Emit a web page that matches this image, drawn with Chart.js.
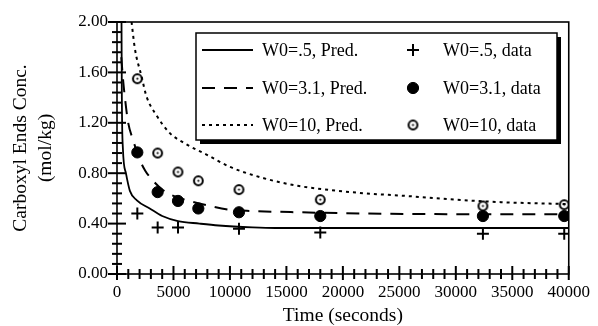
<!DOCTYPE html>
<html><head><meta charset="utf-8">
<script src="https://cdn.jsdelivr.net/npm/chart.js@4.4.1/dist/chart.umd.min.js"></script>
<style>html,body{margin:0;padding:0;background:#fff;}#wrap{width:598px;height:326px;}</style>
</head><body><div id="wrap"><canvas id="c" width="598" height="326"></canvas></div>
<script>
// ---- data ----
const xTickValues = [0,5000,10000,15000,20000,25000,30000,35000,40000];
const yTickValues = [0,0.4,0.8,1.2,1.6,2.0];

const w05DataTimes = [1800,3600,5400,10800,18000,32400,39600];
const w05DataVals  = [0.48,0.37,0.37,0.36,0.33,0.32,0.32];
const w31DataTimes = [1800,3600,5400,7200,10800,18000,32400,39600];
const w31DataVals  = [0.965,0.65,0.58,0.52,0.49,0.46,0.46,0.46];
const w10DataTimes = [1800,3600,5400,7200,10800,18000,32400,39600];
const w10DataVals  = [1.55,0.96,0.81,0.74,0.67,0.59,0.54,0.55];

const w05PredTimes = [400,430,520,790,1140,1760,2900,4000,5400,7300,9000,12000,14000,40000];
const w05PredVals  = [2.0,1.4,1.0,0.80,0.66,0.585,0.52,0.46,0.42,0.40,0.385,0.37,0.365,0.365];
const w31PredTimes = [380,530,700,990,1400,2000,2500,3000,4000,5000,6000,8000,10000,12000,16000,22000,30000,40000];
const w31PredVals  = [1.72,1.55,1.40,1.20,1.07,0.91,0.82,0.76,0.67,0.62,0.59,0.545,0.51,0.50,0.49,0.48,0.475,0.475];
const w10PredTimes = [1290,1580,2170,2610,3490,4660,6130,7880,10000,13000,16000,19000,22000,25500,30000,34000,40000];
const w10PredVals  = [2.0,1.79,1.57,1.41,1.26,1.12,1.03,0.95,0.85,0.76,0.70,0.665,0.64,0.62,0.59,0.57,0.555];

const seriesLabels = ['W0=.5, Pred.','W0=3.1, Pred.','W0=10, Pred.','W0=.5, data','W0=3.1, data','W0=10, data'];

const pts = (xs, ys) => xs.map((x, i) => ({x, y: ys[i]}));
const FONT = '"Liberation Serif","Times New Roman",serif';

// open circle with centre dot
function makeRing(){
  const c = document.createElement('canvas'); c.width = 13; c.height = 13;
  const g = c.getContext('2d');
  g.fillStyle = '#fff'; g.beginPath(); g.arc(6.5,6.5,4.6,0,Math.PI*2); g.fill();
  g.strokeStyle = '#000'; g.lineWidth = 2; g.beginPath(); g.arc(6.5,6.5,4.4,0,Math.PI*2); g.stroke();
  g.fillStyle = '#000'; g.beginPath(); g.arc(6.5,6.5,1.1,0,Math.PI*2); g.fill();
  return c;
}
const ring = makeRing();

const lineDs = (label, data, dash, w) => ({label, data, showLine:true, pointRadius:0, borderColor:'#000',
  borderWidth:w, borderDash:dash, cubicInterpolationMode:'monotone', fill:false});
const ptDs = (label, data, style, r, bw, bg) => ({label, data, showLine:false, pointStyle:style, pointRadius:r,
  pointHoverRadius:r, borderColor:'#000', backgroundColor:bg, borderWidth:bw, pointBorderWidth:bw});

const frameTicks = {
  id:'frameTicks',
  afterDraw(chart){
    const ctx = chart.ctx, a = chart.chartArea, xs = chart.scales.x, ys = chart.scales.y;
    ctx.save();
    ctx.setLineDash([]);
    ctx.strokeStyle = '#000'; ctx.lineWidth = 1.6;
    ctx.strokeRect(a.left, a.top, a.right - a.left, a.bottom - a.top);
    ctx.lineWidth = 2;
    const seg = (x1, y1, x2, y2) => { ctx.beginPath(); ctx.moveTo(x1, y1); ctx.lineTo(x2, y2); ctx.stroke(); };
    for (let k = 0; k <= 40; k++){
      const p = xs.getPixelForValue(k * 1000);
      const major = k % 5 === 0;
      seg(p, a.bottom - (major ? 8 : 5), p, a.bottom + (major ? 6 : 5));
    }
    for (let k = 0; k <= 25; k++){
      const p = ys.getPixelForValue(k * 0.08);
      const l = k % 5 === 0 ? 9 : 5;
      seg(a.left - l, p, a.left + l, p);
    }
    ctx.restore();
  }
};

const boxLegend = {
  id:'boxLegend',
  afterDraw(chart, args, o){
    const ctx = chart.ctx;
    ctx.save();
    ctx.fillStyle = '#000'; ctx.fillRect(o.left + o.shadow, o.top + o.shadow, o.width, o.height);
    ctx.fillStyle = '#fff'; ctx.fillRect(o.left, o.top, o.width, o.height);
    ctx.strokeStyle = '#000'; ctx.lineWidth = 1.5; ctx.strokeRect(o.left, o.top, o.width, o.height);
    ctx.font = o.font; ctx.textBaseline = 'middle'; ctx.textAlign = 'left';
    chart.data.datasets.forEach((ds, i) => {
      const row = i % 3, col = Math.floor(i / 3);
      const y = o.top + o.rows[row];
      ctx.fillStyle = '#000'; ctx.strokeStyle = '#000';
      if (col === 0){
        ctx.lineWidth = ds.borderWidth; ctx.setLineDash(ds.borderDash || []);
        ctx.beginPath(); ctx.moveTo(o.left + o.lineX0, y); ctx.lineTo(o.left + o.lineX1, y); ctx.stroke();
        ctx.setLineDash([]);
        ctx.fillStyle = '#000';
        ctx.fillText(ds.label, o.left + o.text0, y + 1);
      } else {
        ctx.lineWidth = ds.borderWidth; ctx.fillStyle = ds.backgroundColor;
        Chart.helpers.drawPoint(ctx, {pointStyle: ds.pointStyle, radius: ds.pointRadius, rotation:0, borderWidth: ds.borderWidth}, o.left + o.markX, y);
        ctx.fillStyle = '#000';
        ctx.fillText(ds.label, o.left + o.text1, y + 1);
      }
    });
    ctx.restore();
  }
};

new Chart(document.getElementById('c'), {
  type:'scatter',
  data:{ datasets:[
    lineDs(seriesLabels[0], pts(w05PredTimes, w05PredVals), [], 1.8),
    lineDs(seriesLabels[1], pts(w31PredTimes, w31PredVals), [13,9], 2),
    lineDs(seriesLabels[2], pts(w10PredTimes, w10PredVals), [3,4], 2),
    ptDs(seriesLabels[3], pts(w05DataTimes, w05DataVals), 'cross', 6, 2, '#000'),
    ptDs(seriesLabels[4], pts(w31DataTimes, w31DataVals), 'circle', 5.6, 1, '#000'),
    ptDs(seriesLabels[5], pts(w10DataTimes, w10DataVals), ring, 6.5, 2, '#fff'),
  ]},
  options:{
    responsive:false, animation:false, devicePixelRatio:1,
    layout:{padding:{top:22, right:26, bottom:0, left:0}},
    plugins:{
      legend:{display:false}, tooltip:{enabled:false},
      boxLegend:{left:196, top:33, width:361, height:107, shadow:4, rows:[17,55,92],
        lineX0:6, lineX1:57, text0:66, markX:217, text1:247, font:'18px ' + FONT}
    },
    scales:{
      x:{type:'linear', min:0, max:40000,
        afterBuildTicks: s => { s.ticks = xTickValues.map(v => ({value:v})); },
        afterFit: s => { s.height = 52; },
        grid:{display:false, drawTicks:false, tickLength:0},
        border:{display:false},
        ticks:{padding:8, color:'#000', font:{family:FONT, size:17}, maxRotation:0, autoSkip:false,
          callback: v => String(v)},
        title:{display:true, text:'Time (seconds)', color:'#000', font:{family:FONT, size:19.5, lineHeight:1.0}, padding:{top:0,bottom:0}}
      },
      y:{type:'linear', min:0, max:2,
        afterBuildTicks: s => { s.ticks = yTickValues.map(v => ({value:v})); },
        afterFit: s => { s.width = 117; },
        grid:{display:false, drawTicks:false, tickLength:0},
        border:{display:false},
        ticks:{padding:9, color:'#000', font:{family:FONT, size:17}, autoSkip:false,
          callback: v => Number(v).toFixed(2)},
        title:{display:true, text:['Carboxyl Ends Conc.','(mol/kg)'], color:'#000', font:{family:FONT, size:19.5, lineHeight:1.25}, padding:{top:9,bottom:0}}
      }
    }
  },
  plugins:[frameTicks, boxLegend]
});
</script>
</body></html>
